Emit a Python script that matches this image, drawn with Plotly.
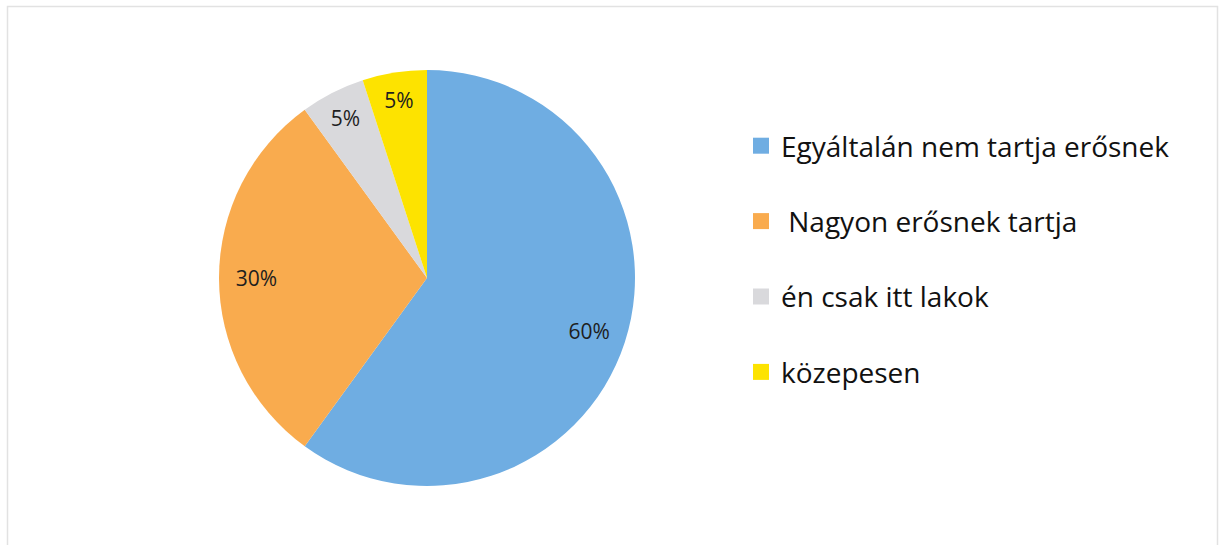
import plotly.graph_objects as go

labels = ["Egyáltalán nem tartja erősnek", " Nagyon erősnek tartja", "én csak itt lakok", "közepesen"]
values = [60, 30, 5, 5]
colors = ["#6fade2", "#f9ab4e", "#d9d9dc", "#fde300"]

W, H = 1223, 545
FONT = "Open Sans"
pie_dom = dict(x=[219 / W, 635 / W], y=[(H - 486) / H, (H - 70) / H])

fig = go.Figure()

# coloured pie, no text
fig.add_trace(go.Pie(
    labels=labels, values=values, sort=False,
    direction="clockwise", rotation=0,
    marker=dict(colors=colors, line=dict(width=0)),
    textinfo="none", domain=pie_dom,
    showlegend=False, hoverinfo="label+percent",
))

# transparent ring on top: puts the percentages out near the rim like excel does
fig.add_trace(go.Pie(
    labels=labels, values=values, sort=False,
    direction="clockwise", rotation=0, hole=0.64,
    marker=dict(colors=["rgba(0,0,0,0)"] * len(values), line=dict(width=0)),
    texttemplate="%{percent:.0%}",
    textposition="inside", insidetextorientation="horizontal",
    textfont=dict(family=FONT, size=21, color="#1e1e1e"),
    domain=pie_dom, showlegend=False, hoverinfo="skip",
))

# legend entries as separate groups so the row spacing can be set
for i, (lab, col) in enumerate(zip(labels, colors)):
    fig.add_trace(go.Scatter(
        x=[None], y=[None], mode="markers", name=lab,
        marker=dict(symbol="square", size=16, color=col),
        legendgroup=str(i), showlegend=True,
    ))

fig.add_shape(type="rect", xref="paper", yref="paper",
              x0=7.5 / W, x1=1217.5 / W, y0=-0.05, y1=(H - 6.5) / H,
              line=dict(color="#e2e2e2", width=1.5))

fig.update_layout(
    width=W, height=H,
    margin=dict(l=0, r=0, t=0, b=0),
    paper_bgcolor="white", plot_bgcolor="white",
    xaxis=dict(visible=False), yaxis=dict(visible=False),
    showlegend=True,
    legend=dict(x=741 / W, y=(H - 121) / H, xanchor="left", yanchor="top",
                font=dict(family=FONT, size=28, color="#111111"),
                tracegroupgap=36, bgcolor="rgba(0,0,0,0)"),
)

fig.write_html("out.html", config={"displayModeBar": False},
               post_script="document.body.style.margin='0';")
